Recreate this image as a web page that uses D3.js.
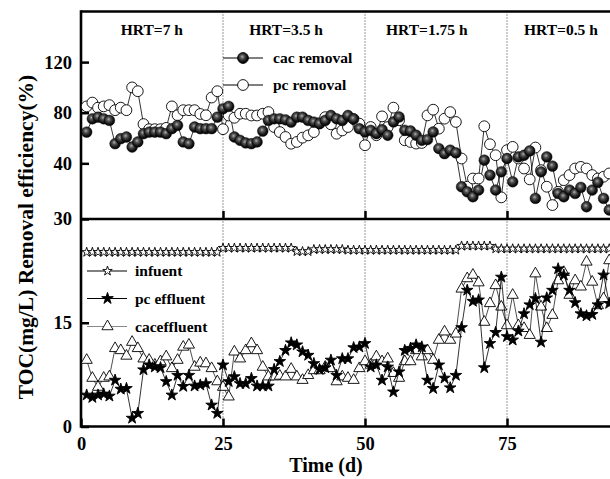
<!DOCTYPE html>
<html>
<head>
<meta charset="utf-8">
<script src="https://cdn.jsdelivr.net/npm/d3@7"></script>
<style>
  body { margin: 0; background: #fff; }
  svg { display: block; font-family: "Liberation Serif", "Times New Roman", serif; font-weight: bold; }
</style>
</head>
<body>
<script>
// sampling days
var days = [1,2,3,4,5,6,7,8,9,10,11,12,13,14,15,16,17,18,19,20,21,22,23,24,25,26,27,28,29,30,
  31,32,33,34,35,36,37,38,39,40,41,42,43,44,45,46,47,48,49,50,51,52,53,54,55,56,57,58,59,60,
  61,62,63,64,65,66,67,68,69,70,71,72,73,74,75,76,77,78,79,80,81,82,83,84,85,86,87,88,89,90,
  91,92,93];

// upper panel: removal efficiency (%)
var cacRemoval = [64.7,75.2,76.5,75.2,73.9,55.5,59.5,60.8,52.9,56.9,
  63.4,64.7,64.7,64.7,63.4,67.4,70.0,56.9,55.5,68.7,
  67.4,67.4,67.4,76.5,83.1,85.0,60.8,58.2,56.1,55.5,
  56.9,65.5,73.9,75.2,75.2,74.4,72.6,76.5,76.5,73.9,
  72.6,71.3,73.9,77.8,75.2,73.9,77.8,75.0,67.4,64.8,
  66.1,63.5,66.6,62.2,72.7,76.6,66.1,65.6,62.2,58.2,
  58.8,64.8,51.7,47.7,50.4,48.3,21.5,17.5,13.6,18.9,
  42.5,30.7,18.9,33.3,43.8,25.4,45.1,46.4,49.8,12.3,
  33.3,45.1,37.8,16.2,13.6,18.9,16.2,21.0,5.7,18.9,
  25.0,12.3,3.1];

var pcRemoval = [85,88,84,85,86,82,84,82,100,97,
  71,67,67,67,68,85,78,82,82,82,
  79,78,92,97,67,77.8,76,79.2,79.2,77.8,
  77.8,79.2,80.5,68.7,64.7,60.8,55.5,56.9,60.3,62.1,
  64.7,71.8,76.5,70.8,63.4,66.0,68.7,75,71.4,54.3,
  68.7,62.2,77.1,68.7,84.0,74.0,58.2,56.9,55.6,56.1,
  77.9,82.4,67.4,75.3,80.5,72.7,43.8,21.5,28.0,28.0,
  69.3,55.1,46.4,13.1,50.4,53.0,43.8,35.9,27.3,52.5,
  34.6,21.5,7.0,17.5,26.7,30.7,35.9,37.2,35.9,30.7,
  28.0,29.4,32.0];

// lower panel: TOC (mg/L)
var influent = [25.2,25.2,25.2,25.2,25.2,25.2,25.2,25.2,25.2,25.2,
  25.2,25.2,25.2,25.2,25.2,25.2,25.2,25.2,25.2,25.2,
  25.2,25.2,25.2,25.2,25.8,25.8,25.8,25.8,25.8,25.8,
  25.8,25.8,25.8,25.8,25.8,25.8,25.8,25.3,25.3,25.3,
  25.6,25.6,25.6,25.6,25.6,25.6,25.5,25.5,25.5,25.5,
  25.5,25.5,25.5,25.5,25.5,25.5,25.5,25.5,25.5,25.5,
  25.5,25.5,25.5,25.5,25.5,25.5,26.1,26.1,26.1,26.1,
  26.1,26.1,25.7,25.7,25.7,25.7,25.7,25.7,25.7,25.7,
  25.7,25.7,25.7,25.7,25.7,25.7,25.7,25.7,25.7,25.7,
  25.7,25.7,25.7];

var pcEffluent = [4.55,4.2,4.55,4.7,4.4,6.7,5.4,5.5,1.2,1.9,
  8.2,8.9,8.6,8.5,6.5,4.55,7.4,5.8,7.4,5.85,
  6.0,6.2,3.1,1.9,8.9,6.5,7.2,6.2,6.2,6.95,
  5.85,5.85,5.85,8.25,9.4,11.0,12.1,11.8,10.8,10.3,
  9.1,8.25,8.5,9.6,7.4,9.8,9.8,11.4,11.5,12.0,
  8.6,8.9,6.7,8.6,5.0,7.9,11.0,11.3,11.8,11.5,
  6.7,5.5,8.9,7.0,5.6,7.4,14.3,19.7,18.1,18.3,
  8.5,12.0,13.6,21.6,13.0,12.5,13.8,16.3,17.6,18.5,
  12.2,18.6,19.7,22.8,21.9,19.7,17.9,16.3,16.0,16.2,
  17.6,21.9,17.8];

var cacEffluent = [9.6,7.0,5.7,7.0,7.2,11.3,11.0,10.2,12.2,11.3,
  9.8,9.6,8.9,9.4,10.1,8.4,9.6,11.5,11.8,8.6,
  9.2,9.1,8.4,6.5,5.7,4.3,10.8,9.8,11.0,12.0,
  11.0,8.6,7.2,7.2,7.3,7.2,8.3,7.2,6.7,7.4,
  8.1,8.1,8.6,8.4,6.5,7.2,7.0,6.7,8.4,9.4,
  8.9,10.1,9.4,9.8,7.7,7.0,9.4,9.4,11.0,10.1,
  11.0,9.6,12.5,13.7,12.5,13.4,19.9,21.4,21.9,20.8,
  15.1,17.8,20.4,17.3,14.6,19.0,14.6,14.2,13.2,22.1,
  17.3,14.2,16.1,21.1,22.3,19.0,21.1,20.2,23.8,20.9,
  17.5,18.5,24.0];

var phaseDays = [25, 50, 75];
var phaseLabels = ["HRT=7 h", "HRT=3.5 h", "HRT=1.75 h", "HRT=0.5 h"];
var phaseLabelDays = [7.0, 29.6, 53.7, 78.0];
var xTicks = [0, 25, 50, 75];
var topTicks = [40, 80, 120];
var bottomTicks = [0, 15, 30];

var W = 610, H = 479;

var svg = d3.select("body").append("svg")
    .attr("width", W)
    .attr("height", H);

// scales
var x = d3.scaleLinear().domain([0, 100]).range([81, 649]);
var yTop = d3.scaleLinear().domain([-4, 160]).range([219, 11.5]);
var yBot = d3.scaleLinear().domain([0, 30]).range([426.5, 219]);

// sphere gradient for cac removal
var defs = svg.append("defs");
var grad = defs.append("radialGradient")
    .attr("id", "sphere")
    .attr("cx", "45%").attr("cy", "42%").attr("r", "60%")
    .attr("fx", "42%").attr("fy", "38%");
grad.append("stop").attr("offset", "0%").attr("stop-color", "#b0b0b0");
grad.append("stop").attr("offset", "30%").attr("stop-color", "#555");
grad.append("stop").attr("offset", "70%").attr("stop-color", "#151515");
grad.append("stop").attr("offset", "100%").attr("stop-color", "#000");

// phase dividers
svg.selectAll(".phase")
    .data(phaseDays)
    .enter().append("line")
    .attr("class", "phase")
    .attr("x1", function(d) { return x(d); })
    .attr("x2", function(d) { return x(d); })
    .attr("y1", yTop.range()[1])
    .attr("y2", yBot.range()[0])
    .attr("stroke", "#333")
    .attr("stroke-width", 1)
    .attr("stroke-dasharray", "1,2");

svg.selectAll(".phaseLabel")
    .data(phaseLabels)
    .enter().append("text")
    .attr("class", "phaseLabel")
    .attr("x", function(d, i) { return x(phaseLabelDays[i]); })
    .attr("y", 35)
    .attr("font-size", "15.5px")
    .text(function(d) { return d; });

// axes (ticks point inward)
var axTop = svg.append("g")
    .attr("transform", "translate(" + x(0) + ",0)")
    .call(d3.axisLeft(yTop).tickValues(topTicks).tickSize(-8).tickSizeOuter(0).tickPadding(9));
var axBot = svg.append("g")
    .attr("transform", "translate(" + x(0) + ",0)")
    .call(d3.axisLeft(yBot).tickValues(bottomTicks).tickSize(-8).tickSizeOuter(0).tickPadding(9));
var axX = svg.append("g")
    .attr("transform", "translate(0," + yBot(0) + ")")
    .call(d3.axisBottom(x).tickValues(xTicks).tickSize(-8).tickSizeOuter(0).tickPadding(10));
var axMid = svg.append("g")
    .attr("transform", "translate(0," + yBot(30) + ")")
    .call(d3.axisBottom(x).tickValues(phaseDays).tickSize(-8).tickSizeOuter(0).tickFormat(""));

[axTop, axBot, axX, axMid].forEach(function(g) {
  g.select(".domain").remove();
  g.selectAll(".tick line").attr("stroke", "#000").attr("stroke-width", 2.5);
  g.selectAll(".tick text")
    .attr("font-family", "Liberation Serif, Times New Roman, serif")
    .attr("font-weight", "bold")
    .attr("font-size", "18.5px")
    .attr("fill", "#000");
});

// frame
var frame = svg.append("g").attr("stroke", "#000").attr("stroke-width", 2.6);
frame.append("line").attr("x1", x(0)).attr("x2", x(100)).attr("y1", yTop.range()[1]).attr("y2", yTop.range()[1]);
frame.append("line").attr("x1", x(0)).attr("x2", x(100)).attr("y1", yBot(30)).attr("y2", yBot(30));
frame.append("line").attr("x1", x(0)).attr("x2", x(100)).attr("y1", yBot(0)).attr("y2", yBot(0));
frame.append("line").attr("x1", x(0)).attr("x2", x(0)).attr("y1", yTop.range()[1] - 1.3).attr("y2", yBot(0) + 1.3);

// axis titles
svg.append("text")
    .attr("x", 326)
    .attr("y", 472)
    .attr("text-anchor", "middle")
    .attr("font-size", "20px")
    .text("Time (d)");

svg.append("text")
    .attr("transform", "translate(33," + 237 + ") rotate(-90)")
    .attr("text-anchor", "middle")
    .attr("font-size", "21.5px")
    .text("TOC(mg/L) Removal efficiency(%)");

// helpers
function series(vals) {
  return days.map(function(d, i) { return { day: d, v: vals[i] }; });
}
function drawLine(data, yScale, color) {
  var line = d3.line()
      .x(function(d) { return x(d.day); })
      .y(function(d) { return yScale(d.v); });
  svg.append("path")
      .datum(data)
      .attr("d", line)
      .attr("fill", "none")
      .attr("stroke", color)
      .attr("stroke-width", 0.8);
}
function drawSymbols(data, yScale, type, size, fill, stroke) {
  svg.append("g").selectAll("path")
      .data(data)
      .enter().append("path")
      .attr("transform", function(d) { return "translate(" + x(d.day) + "," + yScale(d.v) + ")"; })
      .attr("d", d3.symbol().type(type).size(size))
      .attr("fill", fill)
      .attr("stroke", stroke)
      .attr("stroke-width", 0.9);
}

// upper panel
var pcR = series(pcRemoval);
var cacR = series(cacRemoval);
drawLine(pcR, yTop, "#000");
drawLine(cacR, yTop, "#000");
svg.append("g").selectAll("circle")
    .data(pcR).enter().append("circle")
    .attr("cx", function(d) { return x(d.day); })
    .attr("cy", function(d) { return yTop(d.v); })
    .attr("r", 5.4)
    .attr("fill", "#fff")
    .attr("stroke", "#000")
    .attr("stroke-width", 0.9);
svg.append("g").selectAll("circle")
    .data(cacR).enter().append("circle")
    .attr("cx", function(d) { return x(d.day); })
    .attr("cy", function(d) { return yTop(d.v); })
    .attr("r", 5.4)
    .attr("fill", "url(#sphere)")
    .attr("stroke", "#000")
    .attr("stroke-width", 0.4);

// lower panel
var inf = series(influent);
var cacE = series(cacEffluent);
var pcE = series(pcEffluent);
drawLine(inf, yBot, "#000");
drawSymbols(inf, yBot, d3.symbolStar, 28, "#fff", "#000");
drawLine(cacE, yBot, "#222");
drawSymbols(cacE, yBot, d3.symbolTriangle, 54, "#fff", "#000");
drawLine(pcE, yBot, "#000");
drawSymbols(pcE, yBot, d3.symbolStar, 42, "#000", "#000");

// legends
var topLegend = [
  { label: "cac removal", y: 58, fill: "url(#sphere)", stroke: "#000" },
  { label: "pc removal", y: 85, fill: "#fff", stroke: "#000" }
];
topLegend.forEach(function(d) {
  svg.append("line").attr("x1", 223).attr("x2", 263).attr("y1", d.y).attr("y2", d.y)
      .attr("stroke", "#000").attr("stroke-width", 1);
  svg.append("circle").attr("cx", 243).attr("cy", d.y).attr("r", 5.4)
      .attr("fill", d.fill).attr("stroke", d.stroke).attr("stroke-width", 0.9);
  svg.append("text").attr("x", 273).attr("y", d.y).attr("dy", "0.33em")
      .attr("font-size", "15.5px").text(d.label);
});

var botLegend = [
  { label: "infuent", y: 271, type: d3.symbolStar, size: 28, fill: "#fff", line: "#000" },
  { label: "pc effluent", y: 298.5, type: d3.symbolStar, size: 42, fill: "#000", line: "#000" },
  { label: "caceffluent", y: 326.5, type: d3.symbolTriangle, size: 54, fill: "#fff", line: "#888" }
];
botLegend.forEach(function(d) {
  svg.append("line").attr("x1", 87).attr("x2", 127).attr("y1", d.y).attr("y2", d.y)
      .attr("stroke", d.line).attr("stroke-width", 1.2);
  svg.append("path").attr("transform", "translate(107.5," + d.y + ")")
      .attr("d", d3.symbol().type(d.type).size(d.size))
      .attr("fill", d.fill).attr("stroke", "#000").attr("stroke-width", 0.9);
  svg.append("text").attr("x", 135).attr("y", d.y).attr("dy", "0.33em")
      .attr("font-size", "15.5px").text(d.label);
});
</script>
</body>
</html>
